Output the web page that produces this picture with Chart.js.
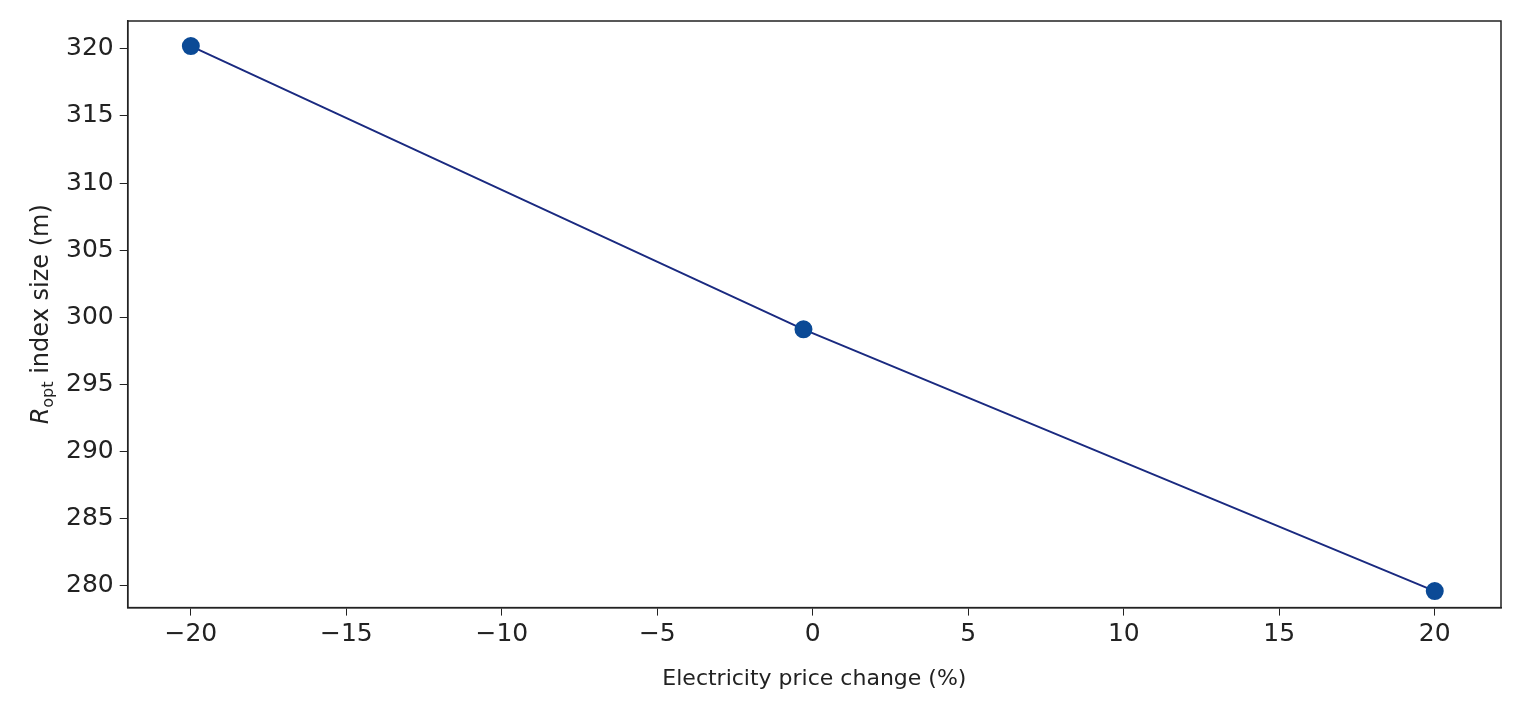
<!DOCTYPE html>
<html><head><meta charset="utf-8">
<script src="https://cdn.jsdelivr.net/npm/chart.js@4/dist/chart.umd.min.js"></script>
<style>html,body{margin:0;background:#fff}#w{width:1521px;height:710px}</style>
</head><body><div id="w"><canvas id="c"></canvas></div>
<script>
const priceChange = [-20, -0.3, 20];
const ropt = [320.2, 299.1, 279.6];
const xTicks = [-20, -15, -10, -5, 0, 5, 10, 15, 20];
const yTicks = [280, 285, 290, 295, 300, 305, 310, 315, 320];
const fam = "'DejaVu Sans', sans-serif";
const tickFont = {family: fam, size: 25};
const titleFont = {family: fam, size: 22};
new Chart(document.getElementById('c'), {
  type: 'scatter',
  data: {datasets: [{
    data: priceChange.map((x, i) => ({x, y: ropt[i]})),
    showLine: true, borderColor: '#1a2a80', borderWidth: 2,
    pointBackgroundColor: '#0b4a96', pointBorderColor: '#0b4a96', pointRadius: 8
  }]},
  options: {
    responsive: true, maintainAspectRatio: false, animation: false,
    layout: {padding: {top: 15, right: 20, bottom: 14, left: 60}},
    plugins: {legend: {display: false}, tooltip: {enabled: false}},
    scales: {
      x: {type: 'linear', min: -22.03, max: 22.13,
        afterBuildTicks: a => { a.ticks = xTicks.map(v => ({value: v})); },
        ticks: {color: '#222', font: tickFont, padding: 4, callback: v => String(v).replace('-', '\u2212')},
        grid: {display: true, drawOnChartArea: false, tickLength: 8, tickColor: '#222'},
        border: {display: true, color: '#222', width: 1.5},
        title: {display: true, text: 'Electricity price change (%)', color: '#222', font: titleFont, padding: {top: 12}}},
      y: {min: 278.37, max: 322.07,
        afterBuildTicks: a => { a.ticks = yTicks.map(v => ({value: v})); },
        ticks: {color: '#222', font: tickFont, padding: 6},
        grid: {display: true, drawOnChartArea: false, tickLength: 8, tickColor: '#222'},
        border: {display: true, color: '#222', width: 1.5},
        title: {display: false}}
    }
  },
  plugins: [{
    id: 'frame',
    afterDraw(ch) {
      const {ctx, chartArea: a} = ch;
      ctx.save(); ctx.strokeStyle = '#222'; ctx.lineWidth = 1.5;
      ctx.strokeRect(a.left, a.top, a.right - a.left, a.bottom - a.top);
      // y-axis title with subscript
      const cy = (a.top + a.bottom) / 2;
      ctx.translate(42, cy); ctx.rotate(-Math.PI / 2);
      ctx.fillStyle = '#222'; ctx.textBaseline = 'middle';
      const p1 = 'R', p2 = 'opt', p3 = ' index size (m)';
      ctx.font = `italic 24px ${fam}`; const w1 = ctx.measureText(p1).width;
      ctx.font = `16px ${fam}`; const w2 = ctx.measureText(p2).width;
      ctx.font = `24px ${fam}`; const w3 = ctx.measureText(p3).width;
      let x = -(w1 + w2 + w3) / 2;
      ctx.font = `italic 24px ${fam}`; ctx.fillText(p1, x, 0); x += w1;
      ctx.font = `16px ${fam}`; ctx.fillText(p2, x, 7); x += w2;
      ctx.font = `24px ${fam}`; ctx.fillText(p3, x, 0);
      ctx.restore();
    }
  }]
});
</script></body></html>
